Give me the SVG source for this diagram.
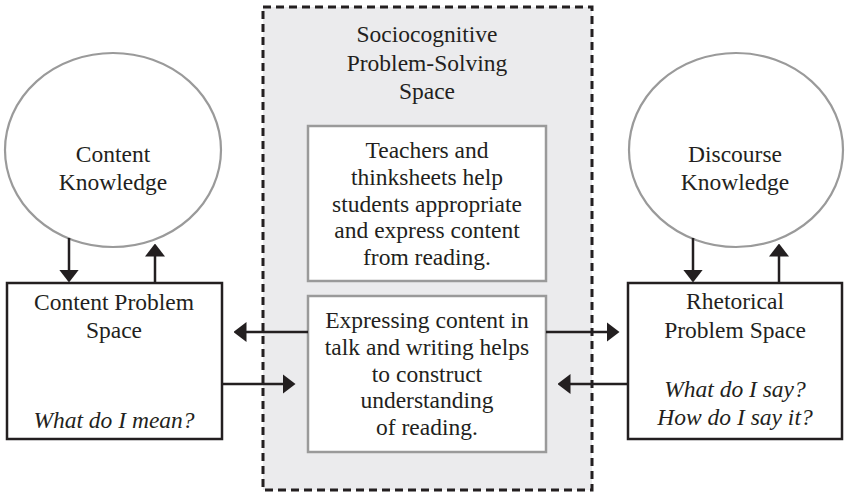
<svg xmlns="http://www.w3.org/2000/svg" width="845" height="494" viewBox="0 0 845 494">
<style>
  text { font-family: "Liberation Serif", "Times New Roman", serif; font-size: 23.5px; fill: #231f20; text-anchor: middle; }
  .it { font-style: italic; }
  .ell { fill: #ffffff; stroke: #9a9a9a; stroke-width: 2.2; }
  .box { fill: #ffffff; stroke: #231f20; stroke-width: 2.5; }
  .inner { fill: #ffffff; stroke: #9a9a9a; stroke-width: 2.5; }
  .dash { fill: #ebebed; stroke: #231f20; stroke-width: 3; stroke-dasharray: 8 5; }
  .conn { stroke: #231f20; stroke-width: 2.5; fill: none; marker-end: url(#ah); }
</style>
<defs>
  <marker id="ah" markerUnits="userSpaceOnUse" viewBox="0 0 13 20" refX="0.5" refY="10" markerWidth="13" markerHeight="20" orient="auto">
    <path d="M0,0 L13,10 L0,20 Z" fill="#231f20"/>
  </marker>
</defs>
<rect width="845" height="494" fill="#ffffff"/>

<g id="sociocognitive-space">
  <rect class="dash" x="263" y="7" width="329" height="483"/>
  <text x="427" y="42">Sociocognitive</text>
  <text x="427" y="71">Problem-Solving</text>
  <text x="427" y="99">Space</text>
</g>

<g id="content-knowledge">
  <ellipse class="ell" cx="113" cy="150" rx="108" ry="97"/>
  <text x="113" y="162">Content</text>
  <text x="113" y="190">Knowledge</text>
</g>

<g id="discourse-knowledge">
  <ellipse class="ell" cx="736" cy="150" rx="107" ry="97"/>
  <text x="735" y="162">Discourse</text>
  <text x="735" y="190">Knowledge</text>
</g>

<g id="content-problem-space">
  <rect class="box" x="7" y="283" width="215" height="156"/>
  <text x="114" y="310">Content Problem</text>
  <text x="114" y="338">Space</text>
  <text class="it" x="114" y="428">What do I mean?</text>
</g>

<g id="rhetorical-problem-space">
  <rect class="box" x="628" y="283" width="214" height="156"/>
  <text x="735" y="309">Rhetorical</text>
  <text x="735" y="338">Problem Space</text>
  <text class="it" x="735" y="397">What do I say?</text>
  <text class="it" x="735" y="425">How do I say it?</text>
</g>

<g id="teachers-box">
  <rect class="inner" x="308" y="126" width="238" height="155"/>
  <text x="427" y="158">Teachers and</text>
  <text x="427" y="185">thinksheets help</text>
  <text x="427" y="212">students appropriate</text>
  <text x="427" y="238">and express content</text>
  <text x="427" y="265">from reading.</text>
</g>

<g id="expressing-box">
  <rect class="inner" x="308" y="296" width="238" height="156"/>
  <text x="427" y="328">Expressing content in</text>
  <text x="427" y="355">talk and writing helps</text>
  <text x="427" y="382">to construct</text>
  <text x="427" y="408">understanding</text>
  <text x="427" y="435">of reading.</text>
</g>

<g id="connectors">
  <line class="conn" x1="69" y1="238" x2="69" y2="270"/>
  <line class="conn" x1="155" y1="283" x2="155" y2="256"/>
  <line class="conn" x1="693" y1="238" x2="693" y2="270"/>
  <line class="conn" x1="779" y1="283" x2="779" y2="256"/>
  <line class="conn" x1="308" y1="332" x2="246" y2="332"/>
  <line class="conn" x1="222" y1="384" x2="283" y2="384"/>
  <line class="conn" x1="546" y1="332" x2="607" y2="332"/>
  <line class="conn" x1="628" y1="384" x2="570" y2="384"/>
</g>
</svg>
